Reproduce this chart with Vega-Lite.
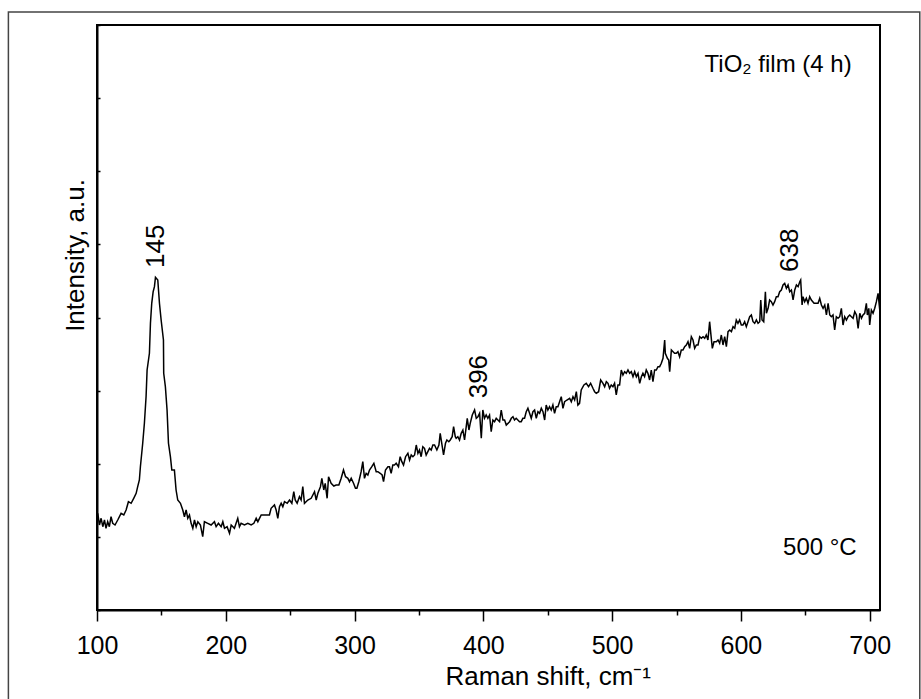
{
  "$schema": "https://vega.github.io/schema/vega-lite/v6.json",
  "width": 783,
  "height": 585,
  "autosize": "none",
  "padding": {"left": 97, "top": 25, "right": 41, "bottom": 89},
  "background": "white",
  "config": {"view": {"stroke": "black", "strokeWidth": 2}, "font": "Liberation Sans"},
  "resolve": {"axis": {"x": "independent", "y": "independent"}},
  "layer": [
    {
      "data": {"values": [{"k": 1}]},
      "mark": {"type": "rect", "filled": false, "stroke": "#444444", "strokeWidth": 1.5, "clip": false},
      "encoding": {
        "x": {"datum": 31.2, "type": "quantitative", "scale": {"domain": [100, 708], "nice": false, "zero": false},
          "axis": {"orient": "bottom", "values": [150, 250, 350, 450, 550, 650], "tickSize": 5, "tickWidth": 1.5, "tickColor": "black", "labels": false, "domain": false, "grid": false, "title": null}},
        "x2": {"datum": 738.9},
        "y": {"datum": 598, "type": "quantitative", "scale": {"domain": [0, 585], "nice": false, "zero": false}, "axis": null},
        "y2": {"datum": -110}
      }
    },
    {
      "data": {"values": [
        {"x":100.0,"y":94},{"x":100.6,"y":96.7},{"x":101.9,"y":85},{"x":103.2,"y":91.7},{"x":104.5,"y":83.3},{"x":105.8,"y":90},{"x":107.0,"y":81.7},{"x":108.3,"y":88.3},{"x":109.6,"y":83.3},{"x":110.9,"y":93.3},{"x":112.2,"y":86.7},{"x":114.0,"y":85},{"x":116.1,"y":90},{"x":118.7,"y":96.7},{"x":120.8,"y":95},{"x":122.6,"y":100},{"x":124.4,"y":108.3},{"x":126.5,"y":106.7},{"x":128.5,"y":111.7},{"x":130.4,"y":116.7},{"x":131.6,"y":123.3},{"x":132.9,"y":130},{"x":133.7,"y":143.3},{"x":135.5,"y":166.7},{"x":136.8,"y":186.7},{"x":138.1,"y":213.3},{"x":138.9,"y":240},{"x":140.7,"y":256.7},{"x":141.5,"y":286.7},{"x":142.5,"y":306.7},{"x":143.6,"y":318.3},{"x":144.6,"y":323.3},{"x":145.4,"y":332.7},{"x":147.2,"y":330},{"x":148.5,"y":306.7},{"x":149.8,"y":290},{"x":151.6,"y":270},{"x":151.8,"y":236.7},{"x":153.1,"y":223.3},{"x":154.4,"y":200},{"x":155.5,"y":166.7},{"x":157.0,"y":153.3},{"x":158.1,"y":140},{"x":160.1,"y":140},{"x":161.4,"y":120},{"x":162.7,"y":110},{"x":164.8,"y":106.7},{"x":166.6,"y":100},{"x":167.9,"y":93.3},{"x":169.2,"y":100},{"x":170.5,"y":91.7},{"x":171.8,"y":95},{"x":173.1,"y":86.7},{"x":174.4,"y":81.7},{"x":175.7,"y":90},{"x":177.0,"y":83.3},{"x":178.3,"y":88.3},{"x":180.3,"y":85},{"x":182.1,"y":73.3},{"x":183.4,"y":88.3},{"x":186.0,"y":86.7},{"x":188.6,"y":85},{"x":191.2,"y":88.3},{"x":192.5,"y":83.3},{"x":194.3,"y":86.7},{"x":196.4,"y":83.3},{"x":197.7,"y":88.3},{"x":199.0,"y":81.7},{"x":201.0,"y":83.3},{"x":202.9,"y":76.7},{"x":204.2,"y":85},{"x":206.7,"y":81.7},{"x":208.0,"y":86.7},{"x":209.3,"y":91.7},{"x":210.6,"y":83.3},{"x":211.9,"y":86.7},{"x":214.5,"y":85},{"x":217.1,"y":86.7},{"x":219.7,"y":85},{"x":221.8,"y":86.7},{"x":223.6,"y":91.7},{"x":224.9,"y":88.3},{"x":227.5,"y":95},{"x":230.0,"y":95},{"x":233.9,"y":95},{"x":235.2,"y":101.7},{"x":237.8,"y":105},{"x":239.1,"y":100},{"x":240.4,"y":91.7},{"x":241.7,"y":103.3},{"x":243.0,"y":106.7},{"x":244.3,"y":103.3},{"x":245.6,"y":108.3},{"x":247.7,"y":106.7},{"x":249.5,"y":110},{"x":251.3,"y":106.7},{"x":252.8,"y":118.3},{"x":253.9,"y":110},{"x":255.4,"y":106.7},{"x":257.2,"y":113.3},{"x":258.5,"y":110},{"x":259.8,"y":123.3},{"x":261.1,"y":106.7},{"x":263.7,"y":110},{"x":266.3,"y":111.7},{"x":268.9,"y":118.3},{"x":270.2,"y":110},{"x":271.5,"y":116.7},{"x":273.5,"y":123.3},{"x":274.6,"y":131.7},{"x":276.1,"y":120},{"x":277.2,"y":126.7},{"x":278.7,"y":111.7},{"x":279.8,"y":133.3},{"x":281.8,"y":126.7},{"x":283.9,"y":124},
        {"x":285.7,"y":125},{"x":287.8,"y":125},{"x":289.6,"y":131.7},{"x":291.4,"y":140},{"x":293.0,"y":133.3},{"x":294.8,"y":131.7},{"x":296.1,"y":128.3},{"x":297.4,"y":131.7},{"x":299.2,"y":126.7},{"x":300.7,"y":121.7},{"x":301.8,"y":121.7},{"x":303.3,"y":128.3},{"x":305.1,"y":138.3},{"x":306.4,"y":148.3},{"x":307.7,"y":131.7},{"x":309.0,"y":136.7},{"x":310.3,"y":135},{"x":311.6,"y":140},{"x":313.4,"y":143.3},{"x":315.0,"y":146.7},{"x":316.8,"y":138.3},{"x":318.1,"y":138.3},{"x":319.9,"y":136.7},{"x":321.4,"y":135},{"x":322.5,"y":128.3},{"x":324.0,"y":140},{"x":325.9,"y":143.3},{"x":327.1,"y":143.3},{"x":328.4,"y":136.7},{"x":329.7,"y":145},{"x":331.0,"y":145},{"x":332.3,"y":146.7},{"x":334.1,"y":143.3},{"x":335.4,"y":153.3},{"x":336.7,"y":148.3},{"x":338.0,"y":145},{"x":339.6,"y":153.3},{"x":341.4,"y":156.7},{"x":342.7,"y":150},{"x":344.0,"y":155},{"x":345.3,"y":153.3},{"x":346.6,"y":155},{"x":347.9,"y":165},{"x":349.2,"y":156.7},{"x":350.4,"y":160},{"x":351.7,"y":153.3},{"x":353.0,"y":163.3},{"x":354.3,"y":161.7},{"x":355.6,"y":155},{"x":356.9,"y":158.3},{"x":358.2,"y":161.7},{"x":359.5,"y":160},{"x":360.8,"y":165},{"x":362.1,"y":165},{"x":363.9,"y":160},{"x":365.5,"y":165},{"x":366.5,"y":176.7},{"x":368.1,"y":163.3},{"x":369.1,"y":155},{"x":370.6,"y":166.7},{"x":371.7,"y":170},{"x":373.2,"y":168.3},{"x":374.3,"y":170},{"x":375.8,"y":173.3},{"x":376.9,"y":183.3},{"x":378.2,"y":173.3},{"x":378.9,"y":171.7},{"x":380.2,"y":173.3},{"x":381.5,"y":170},{"x":382.8,"y":176.7},{"x":384.1,"y":180},{"x":385.4,"y":170},{"x":386.7,"y":183.3},{"x":387.5,"y":191.7},{"x":388.8,"y":180},{"x":389.8,"y":186.7},{"x":391.4,"y":195},{"x":393.2,"y":200},{"x":394.5,"y":191.7},{"x":395.8,"y":193.3},{"x":397.1,"y":196.7},{"x":398.4,"y":171.7},{"x":399.6,"y":200},{"x":400.9,"y":191.7},{"x":402.2,"y":195},{"x":403.5,"y":191.7},{"x":404.8,"y":195},{"x":406.1,"y":178.3},{"x":407.4,"y":190},{"x":408.7,"y":188.3},{"x":410.0,"y":191.7},{"x":411.3,"y":190},{"x":412.6,"y":188.3},{"x":413.9,"y":200},{"x":415.2,"y":190},{"x":416.5,"y":190},{"x":417.8,"y":185},{"x":420.4,"y":188.3},{"x":421.7,"y":191.7},{"x":423.0,"y":193.3},{"x":424.2,"y":190},{"x":425.5,"y":191.7},{"x":428.1,"y":188.3},{"x":429.4,"y":188.3},{"x":430.7,"y":191.7},{"x":432.0,"y":191.7},{"x":433.3,"y":198.3},{"x":434.6,"y":201.7},{"x":435.9,"y":196.7},{"x":437.2,"y":191.7},{"x":438.5,"y":198.3},{"x":439.8,"y":200},{"x":441.1,"y":191.7},{"x":442.4,"y":198.3},{"x":443.7,"y":196.7},{"x":445.0,"y":201.7},{"x":446.3,"y":198.3},{"x":447.6,"y":190},{"x":448.8,"y":205},{"x":450.1,"y":200},{"x":451.4,"y":203.3},{"x":452.7,"y":200},{"x":454.0,"y":205},{"x":455.3,"y":196.7},{"x":456.6,"y":203.3},{"x":457.9,"y":203.3},{"x":459.2,"y":208.3},{"x":460.5,"y":213.3},{"x":461.8,"y":201.7},{"x":463.1,"y":208.3},{"x":464.9,"y":210},{"x":467.0,"y":211.7},{"x":468.3,"y":208.3},{"x":469.6,"y":213.3},{"x":470.9,"y":210},{"x":472.2,"y":218.3},{"x":473.4,"y":205},{"x":474.7,"y":206.7},
        {"x":476.0,"y":220},{"x":478.1,"y":225},{"x":479.9,"y":226.7},{"x":481.7,"y":223.3},{"x":483.3,"y":226.7},{"x":485.1,"y":221.7},{"x":486.4,"y":218.3},{"x":487.7,"y":216.7},{"x":489.5,"y":218.3},{"x":491.1,"y":230},{"x":492.9,"y":226.7},{"x":494.2,"y":223.3},{"x":495.5,"y":228.3},{"x":496.8,"y":226.7},{"x":498.0,"y":221.7},{"x":499.3,"y":225},{"x":500.6,"y":223.3},{"x":501.9,"y":226.7},{"x":503.2,"y":215},{"x":504.5,"y":225},{"x":505.8,"y":225},{"x":507.1,"y":240},{"x":508.4,"y":235},{"x":509.7,"y":238.3},{"x":511.0,"y":236.7},{"x":512.3,"y":240},{"x":513.6,"y":236.7},{"x":514.9,"y":238.3},{"x":516.2,"y":233.3},{"x":517.5,"y":238.3},{"x":518.8,"y":233.3},{"x":520.1,"y":236.7},{"x":521.4,"y":226.7},{"x":522.7,"y":233.3},{"x":523.9,"y":236.7},{"x":525.2,"y":233.3},{"x":526.5,"y":240},{"x":527.8,"y":236.7},{"x":529.1,"y":230},{"x":530.4,"y":240},{"x":531.7,"y":228.3},{"x":533.0,"y":240},{"x":534.3,"y":240},{"x":535.6,"y":243.3},{"x":536.9,"y":243.3},{"x":538.2,"y":246.7},{"x":539.5,"y":251.7},{"x":540.8,"y":270},{"x":541.3,"y":256.7},{"x":542.9,"y":251.7},{"x":543.9,"y":250},{"x":544.7,"y":238.3},{"x":546.0,"y":260},{"x":547.3,"y":258.3},{"x":548.5,"y":256.7},{"x":549.8,"y":256.7},{"x":551.1,"y":258.3},{"x":552.4,"y":253.3},{"x":553.7,"y":260},{"x":555.0,"y":260},{"x":556.3,"y":263.3},{"x":557.6,"y":265},{"x":558.9,"y":268.3},{"x":560.2,"y":261.7},{"x":561.5,"y":273.3},{"x":562.8,"y":270},{"x":564.1,"y":261.7},{"x":565.4,"y":265},{"x":566.7,"y":265},{"x":568.0,"y":273.3},{"x":569.3,"y":271.7},{"x":570.6,"y":273.3},{"x":571.9,"y":271.7},{"x":573.1,"y":275},{"x":574.4,"y":270},{"x":575.7,"y":288.3},{"x":577.0,"y":271.7},{"x":577.8,"y":261.7},{"x":579.1,"y":268.3},{"x":580.9,"y":268.3},{"x":582.2,"y":270},{"x":583.5,"y":266.7},{"x":584.8,"y":275},{"x":586.1,"y":265},{"x":587.4,"y":273.3},{"x":588.7,"y":263.3},{"x":590.0,"y":278.3},{"x":591.3,"y":280},{"x":592.6,"y":278.3},{"x":593.9,"y":283.3},{"x":595.2,"y":281.7},{"x":596.4,"y":290},{"x":597.7,"y":286.7},{"x":599.0,"y":290},{"x":600.3,"y":285},{"x":601.6,"y":285},{"x":602.9,"y":288.3},{"x":604.2,"y":283.3},{"x":605.5,"y":288.3},{"x":606.8,"y":293.3},{"x":608.1,"y":295},{"x":609.4,"y":288.3},{"x":610.7,"y":286.7},{"x":612.0,"y":290},{"x":613.3,"y":286.7},{"x":614.6,"y":288.3},{"x":615.4,"y":310},{"x":616.4,"y":290},{"x":617.7,"y":288.3},{"x":619.0,"y":318.3},{"x":619.8,"y":296.7},{"x":621.1,"y":301.7},{"x":622.3,"y":310},{"x":623.6,"y":308.3},{"x":624.9,"y":305},{"x":626.2,"y":308.3},{"x":627.5,"y":313.3},{"x":628.8,"y":313.3},{"x":630.1,"y":318.3},{"x":631.4,"y":320},{"x":632.7,"y":325},{"x":634.0,"y":326.7},{"x":635.3,"y":321.7},{"x":636.6,"y":325},{"x":637.9,"y":318.3},{"x":639.2,"y":320},{"x":640.5,"y":310},{"x":641.8,"y":320},{"x":643.1,"y":325},{"x":644.4,"y":323.3},{"x":645.7,"y":328.3},{"x":646.4,"y":330},{"x":647.5,"y":305},{"x":648.2,"y":313.3},{"x":649.5,"y":308.3},{"x":650.8,"y":311.7},{"x":652.1,"y":306.7},{"x":653.4,"y":313.3},{"x":654.7,"y":310},{"x":656.8,"y":306.7},{"x":658.6,"y":306.7},{"x":659.9,"y":306.7},{"x":661.2,"y":311.7},{"x":662.5,"y":305},{"x":663.8,"y":301.7},{"x":665.1,"y":305},{"x":666.4,"y":295},{"x":667.7,"y":306.7},{"x":669.0,"y":295},{"x":670.2,"y":293.3},{"x":671.5,"y":295},{"x":672.8,"y":280},{"x":674.1,"y":293.3},{"x":675.4,"y":291.7},{"x":676.7,"y":293.3},{"x":678.0,"y":301.7},{"x":679.3,"y":285},{"x":680.6,"y":293.3},{"x":681.9,"y":290},{"x":683.2,"y":293.3},{"x":684.5,"y":295},{"x":685.8,"y":293.3},{"x":687.1,"y":291.7},{"x":688.4,"y":298.3},{"x":689.7,"y":295},{"x":691.0,"y":281.7},{"x":692.3,"y":296.7},{"x":693.6,"y":291.7},{"x":694.8,"y":295},{"x":696.1,"y":296.7},{"x":697.4,"y":306.7},{"x":698.2,"y":295},{"x":699.3,"y":301.7},{"x":700.0,"y":285},{"x":701.3,"y":300},{"x":702.6,"y":296.7},{"x":703.9,"y":301.7},{"x":705.2,"y":308.3},{"x":706.5,"y":316.7},{"x":707.8,"y":300},{"x":709.1,"y":298.3}
      ]},
      "mark": {"type": "line", "color": "black", "strokeWidth": 1.5, "clip": true, "strokeJoin": "miter"},
      "encoding": {
        "x": {
          "field": "x", "type": "quantitative",
          "scale": {"domain": [100, 708], "nice": false, "zero": false},
          "axis": {
            "orient": "bottom",
            "values": [100, 200, 300, 400, 500, 600, 700],
            "tickSize": 11, "labelFlush": false,
            "labelFontSize": 25, "labelColor": "black", "labelBaseline": "alphabetic", "labelPadding": 32,
            "domainColor": "black", "domainWidth": 2, "tickColor": "black", "tickWidth": 1.5,
            "grid": false,
            "title": "Raman shift, cm⁻¹", "titleFontSize": 26, "titleFontWeight": "normal", "titleColor": "black",
            "titleX": 348, "titleY": 74, "titleAlign": "left", "titleBaseline": "alphabetic", "titleAnchor": null
          }
        },
        "y": {
          "field": "y", "type": "quantitative",
          "scale": {"domain": [0, 585], "nice": false, "zero": false},
          "axis": {
            "orient": "left",
            "values": [0, 73.125, 146.25, 219.375, 292.5, 365.625, 438.75, 511.875, 585],
            "tickSize": -3, "tickColor": "black", "tickWidth": 1.5, "labels": false,
            "domainColor": "black", "domainWidth": 2, "grid": false,
            "title": "Intensity, a.u.", "titleFontSize": 26, "titleFontWeight": "normal", "titleColor": "black",
            "titleX": -14, "titleY": 230, "titleAngle": 270, "titleAlign": "center", "titleBaseline": "alphabetic", "titleAnchor": null
          }
        }
      }
    },
    {
      "data": {"values": [
        {"x": 145.8, "y": 342, "label": "145"},
        {"x": 396.5, "y": 211.7, "label": "396"},
        {"x": 638.5, "y": 338, "label": "638"}
      ]},
      "mark": {"type": "text", "angle": 270, "align": "left", "baseline": "middle", "fontSize": 26, "color": "black"},
      "encoding": {
        "x": {"field": "x", "type": "quantitative", "axis": null},
        "y": {"field": "y", "type": "quantitative", "axis": null},
        "text": {"field": "label"}
      }
    },
    {
      "data": {"values": [
        {"x": 686, "y": 538, "label": "TiO₂ film (4 h)"},
        {"x": 689.9, "y": 55, "label": "500 °C"}
      ]},
      "mark": {"type": "text", "align": "right", "baseline": "alphabetic", "fontSize": 24, "color": "black"},
      "encoding": {
        "x": {"field": "x", "type": "quantitative", "axis": null},
        "y": {"field": "y", "type": "quantitative", "axis": null},
        "text": {"field": "label"}
      }
    }
  ]
}
